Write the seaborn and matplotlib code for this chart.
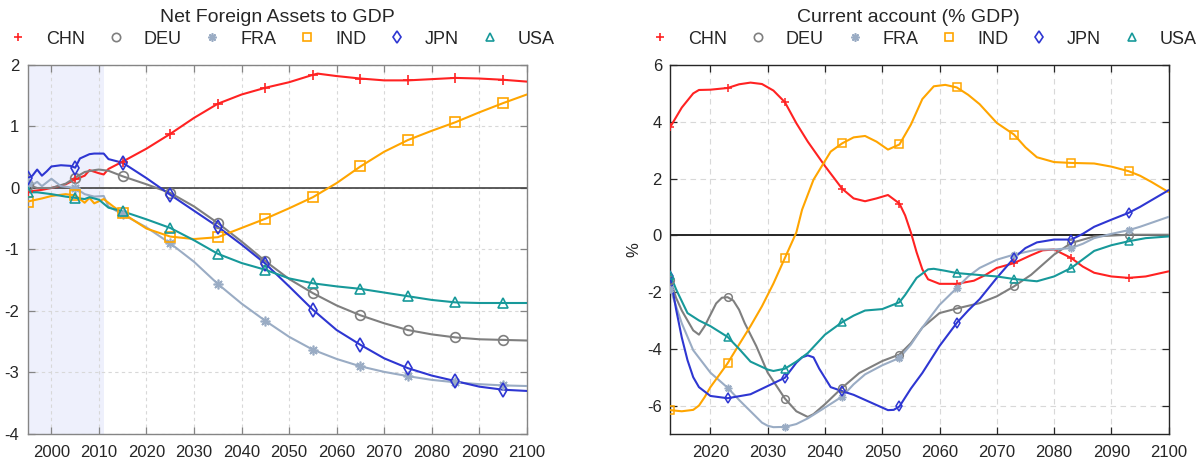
import matplotlib
matplotlib.use("Agg")
import matplotlib.pyplot as plt
from matplotlib.lines import Line2D
import pandas as pd
import seaborn as sns

countries = ["CHN", "DEU", "FRA", "IND", "JPN", "USA"]

# ---- Net foreign assets to GDP ----
nfa_years_chn = [1995, 1998, 2000, 2003, 2005, 2007, 2008, 2010, 2011, 2012, 2015, 2020, 2025, 2030,
                 2035, 2040, 2045, 2050, 2055, 2056, 2060, 2065, 2070, 2075, 2080, 2085, 2090, 2095, 2100]
nfa_chn = [-0.06, -0.03, 0.0, 0.06, 0.14, 0.2, 0.29, 0.24, 0.22, 0.31, 0.43, 0.64, 0.88, 1.14,
           1.37, 1.52, 1.63, 1.72, 1.84, 1.86, 1.82, 1.78, 1.75, 1.75, 1.77, 1.79, 1.78, 1.76, 1.73]

nfa_years_deu = [1995, 1997, 2000, 2003, 2005, 2007, 2009, 2010, 2012, 2015, 2020, 2025, 2030, 2035,
                 2040, 2045, 2050, 2055, 2060, 2065, 2070, 2075, 2080, 2085, 2090, 2095, 2100]
nfa_deu = [0.05, 0.0, 0.0, 0.07, 0.17, 0.26, 0.29, 0.3, 0.28, 0.19, 0.06, -0.08, -0.3, -0.57,
           -0.87, -1.19, -1.48, -1.71, -1.91, -2.07, -2.2, -2.31, -2.38, -2.43, -2.46, -2.47, -2.48]

nfa_years_fra = [1995, 1996, 1997, 1998, 2000, 2002, 2005, 2007, 2009, 2011, 2012, 2015, 2020, 2025,
                 2030, 2035, 2040, 2045, 2050, 2055, 2060, 2065, 2070, 2075, 2080, 2085, 2090, 2095, 2100]
nfa_fra = [0.08, 0.05, 0.1, 0.03, 0.15, 0.03, 0.0, -0.1, -0.14, -0.13, -0.3, -0.43, -0.64, -0.9,
           -1.2, -1.56, -1.88, -2.16, -2.42, -2.63, -2.78, -2.9, -2.99, -3.06, -3.12, -3.16, -3.19, -3.21, -3.22]

nfa_years_ind = [1995, 1998, 2000, 2003, 2005, 2007, 2008, 2009, 2011, 2013, 2015, 2020, 2025, 2030,
                 2035, 2040, 2045, 2050, 2055, 2060, 2065, 2070, 2075, 2080, 2085, 2090, 2095, 2100]
nfa_ind = [-0.22, -0.17, -0.13, -0.1, -0.12, -0.24, -0.16, -0.25, -0.18, -0.3, -0.41, -0.66, -0.79, -0.83,
           -0.8, -0.65, -0.5, -0.33, -0.15, 0.08, 0.35, 0.59, 0.78, 0.93, 1.07, 1.23, 1.38, 1.52]

nfa_years_jpn = [1995, 1996, 1997, 1998, 1999, 2000, 2002, 2004, 2005, 2006, 2008, 2009, 2011, 2012,
                 2014, 2015, 2020, 2025, 2030, 2035, 2040, 2045, 2050, 2055, 2060, 2065, 2070, 2075,
                 2080, 2085, 2090, 2095, 2100]
nfa_jpn = [0.16, 0.2, 0.3, 0.2, 0.27, 0.35, 0.37, 0.36, 0.33, 0.48, 0.55, 0.56, 0.56, 0.47,
           0.43, 0.41, 0.16, -0.11, -0.37, -0.63, -0.92, -1.23, -1.6, -1.98, -2.31, -2.55, -2.77, -2.93,
           -3.05, -3.14, -3.23, -3.28, -3.3]

nfa_years_usa = [1995, 1997, 2000, 2003, 2005, 2007, 2008, 2010, 2012, 2015, 2020, 2025, 2030, 2035,
                 2040, 2045, 2050, 2055, 2060, 2065, 2070, 2075, 2080, 2085, 2090, 2095, 2100]
nfa_usa = [-0.07, -0.07, -0.1, -0.14, -0.16, -0.18, -0.15, -0.19, -0.32, -0.38, -0.51, -0.65, -0.85, -1.07,
           -1.22, -1.33, -1.47, -1.55, -1.6, -1.64, -1.7, -1.76, -1.82, -1.86, -1.87, -1.87, -1.87]

nfa_marker_years = list(range(1995, 2100, 10))

# ---- Current account (% GDP) ----
ca_years_chn = [2013, 2015, 2017, 2018, 2020, 2023, 2025, 2027, 2029, 2031, 2033, 2035, 2037, 2040,
                2043, 2045, 2047, 2049, 2051, 2053, 2054, 2055, 2056, 2057, 2058, 2060, 2063, 2066,
                2068, 2070, 2073, 2076, 2078, 2080, 2083, 2085, 2087, 2090, 2093, 2096, 2100]
ca_chn = [3.82, 4.5, 5.0, 5.12, 5.13, 5.19, 5.32, 5.38, 5.33, 5.1, 4.69, 3.95, 3.3, 2.44,
          1.64, 1.3, 1.2, 1.3, 1.42, 1.12, 0.7, 0.1, -0.6, -1.2, -1.55, -1.71, -1.71, -1.6,
          -1.4, -1.15, -0.98, -0.7, -0.53, -0.5, -0.8, -1.1, -1.32, -1.45, -1.5, -1.45, -1.27]

ca_years_deu = [2013, 2014, 2015, 2016, 2017, 2018, 2019, 2020, 2021, 2022, 2023, 2024, 2025, 2026,
                2028, 2030, 2033, 2035, 2037, 2038, 2040, 2043, 2046, 2050, 2053, 2055, 2057, 2060,
                2063, 2067, 2070, 2073, 2076, 2080, 2083, 2087, 2093, 2100]
ca_deu = [-1.57, -2.2, -2.65, -3.0, -3.35, -3.5, -3.2, -2.8, -2.4, -2.2, -2.18, -2.3, -2.62, -3.1,
          -3.9, -4.84, -5.75, -6.2, -6.4, -6.3, -5.95, -5.37, -4.85, -4.43, -4.2, -3.8, -3.25, -2.74,
          -2.58, -2.39, -2.15, -1.8, -1.39, -0.68, -0.27, -0.04, 0.02, 0.02]

ca_years_fra = [2013, 2015, 2017, 2020, 2023, 2025, 2027, 2029, 2030, 2031, 2033, 2035, 2037, 2040,
                2043, 2045, 2047, 2050, 2053, 2055, 2057, 2060, 2063, 2065, 2067, 2070, 2073, 2077,
                2080, 2083, 2085, 2087, 2090, 2093, 2095, 2100]
ca_fra = [-1.89, -3.1, -4.05, -4.84, -5.37, -5.8, -6.2, -6.6, -6.71, -6.76, -6.75, -6.65, -6.45, -6.07,
          -5.68, -5.25, -4.9, -4.58, -4.32, -3.85, -3.25, -2.45, -1.86, -1.45, -1.15, -0.86, -0.68, -0.5,
          -0.5, -0.45, -0.3, -0.1, 0.05, 0.18, 0.3, 0.65]

ca_years_ind = [2013, 2015, 2017, 2018, 2019, 2020, 2023, 2025, 2027, 2029, 2031, 2033, 2035, 2036,
                2038, 2041, 2043, 2045, 2047, 2049, 2051, 2053, 2055, 2057, 2059, 2061, 2063, 2065,
                2067, 2070, 2073, 2075, 2077, 2080, 2083, 2087, 2090, 2093, 2095, 2097, 2100]
ca_ind = [-6.16, -6.2, -6.15, -6.0, -5.7, -5.35, -4.51, -3.85, -3.2, -2.5, -1.7, -0.8, 0.1, 0.9,
          1.96, 2.95, 3.24, 3.45, 3.5, 3.3, 3.02, 3.2, 3.9, 4.8, 5.25, 5.3, 5.21, 4.95,
          4.62, 3.96, 3.55, 3.1, 2.75, 2.58, 2.55, 2.53, 2.42, 2.26, 2.1, 1.88, 1.52]

ca_years_jpn = [2013, 2014, 2015, 2016, 2017, 2018, 2020, 2023, 2027, 2030, 2033, 2035, 2036, 2037,
                2038, 2039, 2041, 2043, 2045, 2047, 2050, 2051, 2052, 2053, 2055, 2057, 2060, 2063,
                2065, 2067, 2070, 2073, 2075, 2077, 2080, 2083, 2085, 2087, 2090, 2093, 2095, 2100]
ca_jpn = [-1.45, -2.6, -3.6, -4.4, -5.0, -5.35, -5.66, -5.74, -5.6, -5.31, -5.02, -4.49, -4.3, -4.23,
          -4.3, -4.7, -5.35, -5.49, -5.62, -5.8, -6.07, -6.16, -6.15, -6.03, -5.4, -4.85, -3.9, -3.09,
          -2.65, -2.25, -1.5, -0.8, -0.45, -0.25, -0.15, -0.15, 0.05, 0.3, 0.55, 0.79, 1.0, 1.59]

ca_years_usa = [2013, 2014, 2016, 2018, 2020, 2023, 2025, 2027, 2030, 2031, 2033, 2035, 2037, 2040,
                2043, 2045, 2047, 2050, 2053, 2054, 2056, 2058, 2059, 2061, 2063, 2067, 2070, 2073,
                2077, 2080, 2083, 2085, 2087, 2090, 2093, 2096, 2100]
ca_usa = [-1.39, -1.9, -2.74, -3.0, -3.2, -3.58, -4.0, -4.45, -4.73, -4.78, -4.7, -4.45, -4.15, -3.5,
          -3.06, -2.83, -2.65, -2.6, -2.36, -2.1, -1.5, -1.2, -1.18, -1.25, -1.33, -1.4, -1.45, -1.54,
          -1.62, -1.45, -1.15, -0.85, -0.55, -0.35, -0.21, -0.1, -0.04]

ca_marker_years = list(range(2013, 2100, 10))

colors = {"CHN": "#FF2222", "DEU": "#7F7F7F", "FRA": "#9AACC4",
          "IND": "#FFA500", "JPN": "#2E36D2", "USA": "#17999A"}
markers = {"CHN": "+", "DEU": "o", "FRA": (8, 2, 0), "IND": "s", "JPN": "d", "USA": "^"}


def long_frame(pairs):
    parts = []
    for c, (yrs, vals) in zip(countries, pairs):
        parts.append(pd.DataFrame({"year": yrs, "value": vals, "country": c}))
    return pd.concat(parts, ignore_index=True)


nfa = long_frame([(nfa_years_chn, nfa_chn), (nfa_years_deu, nfa_deu), (nfa_years_fra, nfa_fra),
                  (nfa_years_ind, nfa_ind), (nfa_years_jpn, nfa_jpn), (nfa_years_usa, nfa_usa)])
ca = long_frame([(ca_years_chn, ca_chn), (ca_years_deu, ca_deu), (ca_years_fra, ca_fra),
                 (ca_years_ind, ca_ind), (ca_years_jpn, ca_jpn), (ca_years_usa, ca_usa)])

sns.set_theme(style="ticks")
plt.rcParams["font.family"] = ["Liberation Sans", "DejaVu Sans"]
plt.rcParams["axes.unicode_minus"] = False

fig = plt.figure(figsize=(11.97, 4.61), dpi=100)
ax1 = fig.add_axes([0.0231, 0.0586, 0.4170, 0.8004])
ax2 = fig.add_axes([0.5600, 0.0586, 0.4163, 0.8004])


def draw_series(ax, df, marker_years, msize, mew):
    for c in countries:
        d = df[df["country"] == c]
        sns.lineplot(data=d, x="year", y="value", color=colors[c], lw=1.5,
                     estimator=None, sort=False, ax=ax, zorder=3)
        m = d[d["year"].isin(marker_years)]
        sns.lineplot(data=m, x="year", y="value", color=colors[c], estimator=None, sort=False,
                     linestyle="", marker=markers[c], markersize=msize,
                     markerfacecolor="none", markeredgecolor=colors[c],
                     markeredgewidth=mew, ax=ax, zorder=4)


def style_axes(ax, spine_color, grid_dash):
    ax.grid(True, color="#D8D8D8", linestyle=grid_dash, linewidth=0.8)
    ax.set_axisbelow(True)
    for s in ax.spines.values():
        s.set_visible(True)
        s.set_color(spine_color)
        s.set_linewidth(1.0)
    ax.tick_params(direction="in", length=5, width=0.9, color=spine_color,
                   top=True, right=True, labelsize=12, labelcolor="#262626")
    ax.tick_params(axis="x", pad=8)
    ax.tick_params(axis="y", pad=6)
    ax.set_xlabel("")
    ax.set_ylabel("")


def add_legend(ax, x_center):
    handles = [Line2D([], [], color=colors[c], marker=markers[c], linestyle="",
                      markerfacecolor="none", markeredgecolor=colors[c],
                      markersize=6, markeredgewidth=1.2) for c in countries]
    ax.legend(handles, countries, loc="center", bbox_to_anchor=(x_center, 0.915),
              bbox_transform=fig.transFigure, ncol=6, frameon=False, fontsize=13,
              handlelength=1.0, handletextpad=1.05, columnspacing=1.2, borderpad=0)


# Left: net foreign assets
ax1.axvspan(1995, 2011, color="#EEF0FC", zorder=0, lw=0)
draw_series(ax1, nfa, nfa_marker_years, 7, 1.2)
ax1.axhline(0, color="#404040", lw=1.2, zorder=2)
ax1.set_xlim(1995, 2100)
ax1.set_ylim(-4, 2)
ax1.set_xticks(list(range(2000, 2101, 10)))
ax1.set_yticks([-4, -3, -2, -1, 0, 1, 2])
style_axes(ax1, "#858585", (0, (3, 3)))
fig.text(0.2316, 0.963, "Net Foreign Assets to GDP", ha="center", va="center", fontsize=14)
add_legend(ax1, 0.2355)

# Right: current account
draw_series(ax2, ca, ca_marker_years, 5.5, 1.1)
ax2.axhline(0, color="#262626", lw=1.4, zorder=2)
ax2.set_xlim(2013, 2100)
ax2.set_ylim(-7, 6)
ax2.set_xticks(list(range(2020, 2101, 10)))
ax2.set_yticks([-6, -4, -2, 0, 2, 4, 6])
style_axes(ax2, "#262626", (0, (5, 4)))
ax2.set_ylabel("%", fontsize=12, color="#262626", labelpad=4)
fig.text(0.7586, 0.963, "Current account (% GDP)", ha="center", va="center", fontsize=14)
add_legend(ax2, 0.772)

fig.savefig("out.png", dpi=100)
